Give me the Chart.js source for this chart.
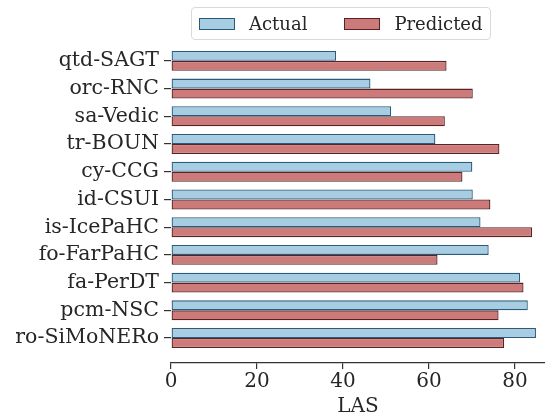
<!DOCTYPE html>
<html>
<head>
<meta charset="utf-8">
<script src="https://cdn.jsdelivr.net/npm/chart.js@4.4.1/dist/chart.umd.min.js"></script>
<style>
  body { margin: 0; background: #fff; }
  #wrap { position: relative; width: 545px; height: 418px; }
  #legend {
    position: absolute; left: 191px; top: 7px; width: 298px; height: 31px;
    border: 1px solid #d9d9d9; border-radius: 4px;
    display: flex; align-items: center;
    font-family: 'DejaVu Serif', serif; font-size: 18px; color: #262626;
  }
  #legend .item { display: flex; align-items: center; margin-left: 7px; }
  #legend .item + .item { margin-left: 37px; }
  #legend .swatch { width: 34px; height: 10px; margin-right: 14px; }
</style>
</head>
<body>
<div id="wrap">
  <canvas id="lasChart"></canvas>
  <div id="legend"></div>
</div>
<script>
// treebanks, top to bottom
var treebanks = ['qtd-SAGT', 'orc-RNC', 'sa-Vedic', 'tr-BOUN', 'cy-CCG', 'id-CSUI',
    'is-IcePaHC', 'fo-FarPaHC', 'fa-PerDT', 'pcm-NSC', 'ro-SiMoNERo'];
var actualLAS = [38.4, 46.4, 51.2, 61.5, 70.1, 70.2, 72.0, 73.9, 81.2, 83.0, 84.9];
var predictedLAS = [64.1, 70.2, 63.7, 76.4, 67.8, 74.3, 84.0, 62.0, 82.0, 76.2, 77.5];
var xTicks = [0, 20, 40, 60, 80];

var serif = "'DejaVu Serif', serif";
var ink = '#262626';

function points(values) {
    return values.map(function (v, i) { return { x: v, y: i }; });
}

// html legend built from the chart's own legend items
var htmlLegend = {
    id: 'htmlLegend',
    afterUpdate: function (chart) {
        var box = document.getElementById('legend');
        box.innerHTML = '';
        chart.options.plugins.legend.labels.generateLabels(chart).forEach(function (item) {
            var el = document.createElement('div');
            el.className = 'item';
            var sw = document.createElement('span');
            sw.className = 'swatch';
            sw.style.background = item.fillStyle;
            sw.style.border = '1.3px solid ' + item.strokeStyle;
            var txt = document.createElement('span');
            txt.textContent = item.text;
            el.appendChild(sw);
            el.appendChild(txt);
            box.appendChild(el);
        });
    }
};

var ctx = document.getElementById('lasChart').getContext('2d');
var lasChart = new Chart(ctx, {
    type: 'bar',
    data: {
        datasets: [{
                label: 'Actual',
                data: points(actualLAS),
                backgroundColor: '#a6cde2',
                borderColor: '#2b5b7c',
                borderWidth: 1.3,
                borderSkipped: false,
            },
            {
                label: 'Predicted',
                data: points(predictedLAS),
                backgroundColor: '#cd7a7a',
                borderColor: '#5a2222',
                borderWidth: 1.3,
                borderSkipped: false,
            },
        ],
    },
    options: {
        indexAxis: 'y',
        responsive: true,
        maintainAspectRatio: false,
        animation: false,
        categoryPercentage: 0.72,
        barPercentage: 1.0,
        layout: { padding: { left: 0, right: 0, top: 47, bottom: 0 } },
        plugins: {
            tooltip: { enabled: false },
            legend: { display: false },
        },
        scales: {
            x: {
                type: 'linear',
                min: 0,
                max: 87,
                afterBuildTicks: function (scale) {
                    scale.ticks = xTicks.map(function (v) { return { value: v }; });
                },
                grid: { drawOnChartArea: false, tickLength: 6, color: '#333', lineWidth: 1.2 },
                border: { display: true, color: '#333', width: 1.2 },
                ticks: { color: ink, font: { family: serif, size: 20 }, padding: 1 },
                title: { display: true, text: 'LAS', color: ink, font: { family: serif, size: 20, lineHeight: 1.15 }, padding: { top: 0, bottom: 0 } },
            },
            y: {
                type: 'linear',
                reverse: true,
                offset: false,
                min: -0.5,
                max: 10.9,
                afterBuildTicks: function (scale) {
                    scale.ticks = treebanks.map(function (t, i) { return { value: i }; });
                },
                afterFit: function (scale) { scale.width = 171; },
                grid: { offset: false, drawOnChartArea: false, tickLength: 7, color: '#333', lineWidth: 1.2 },
                border: { display: false },
                ticks: {
                    color: ink,
                    font: { family: serif, size: 20.5 },
                    padding: 5,
                    callback: function (v) { return treebanks[v]; },
                },
            },
        },
    },
    plugins: [htmlLegend],
});
</script>
</body>
</html>
